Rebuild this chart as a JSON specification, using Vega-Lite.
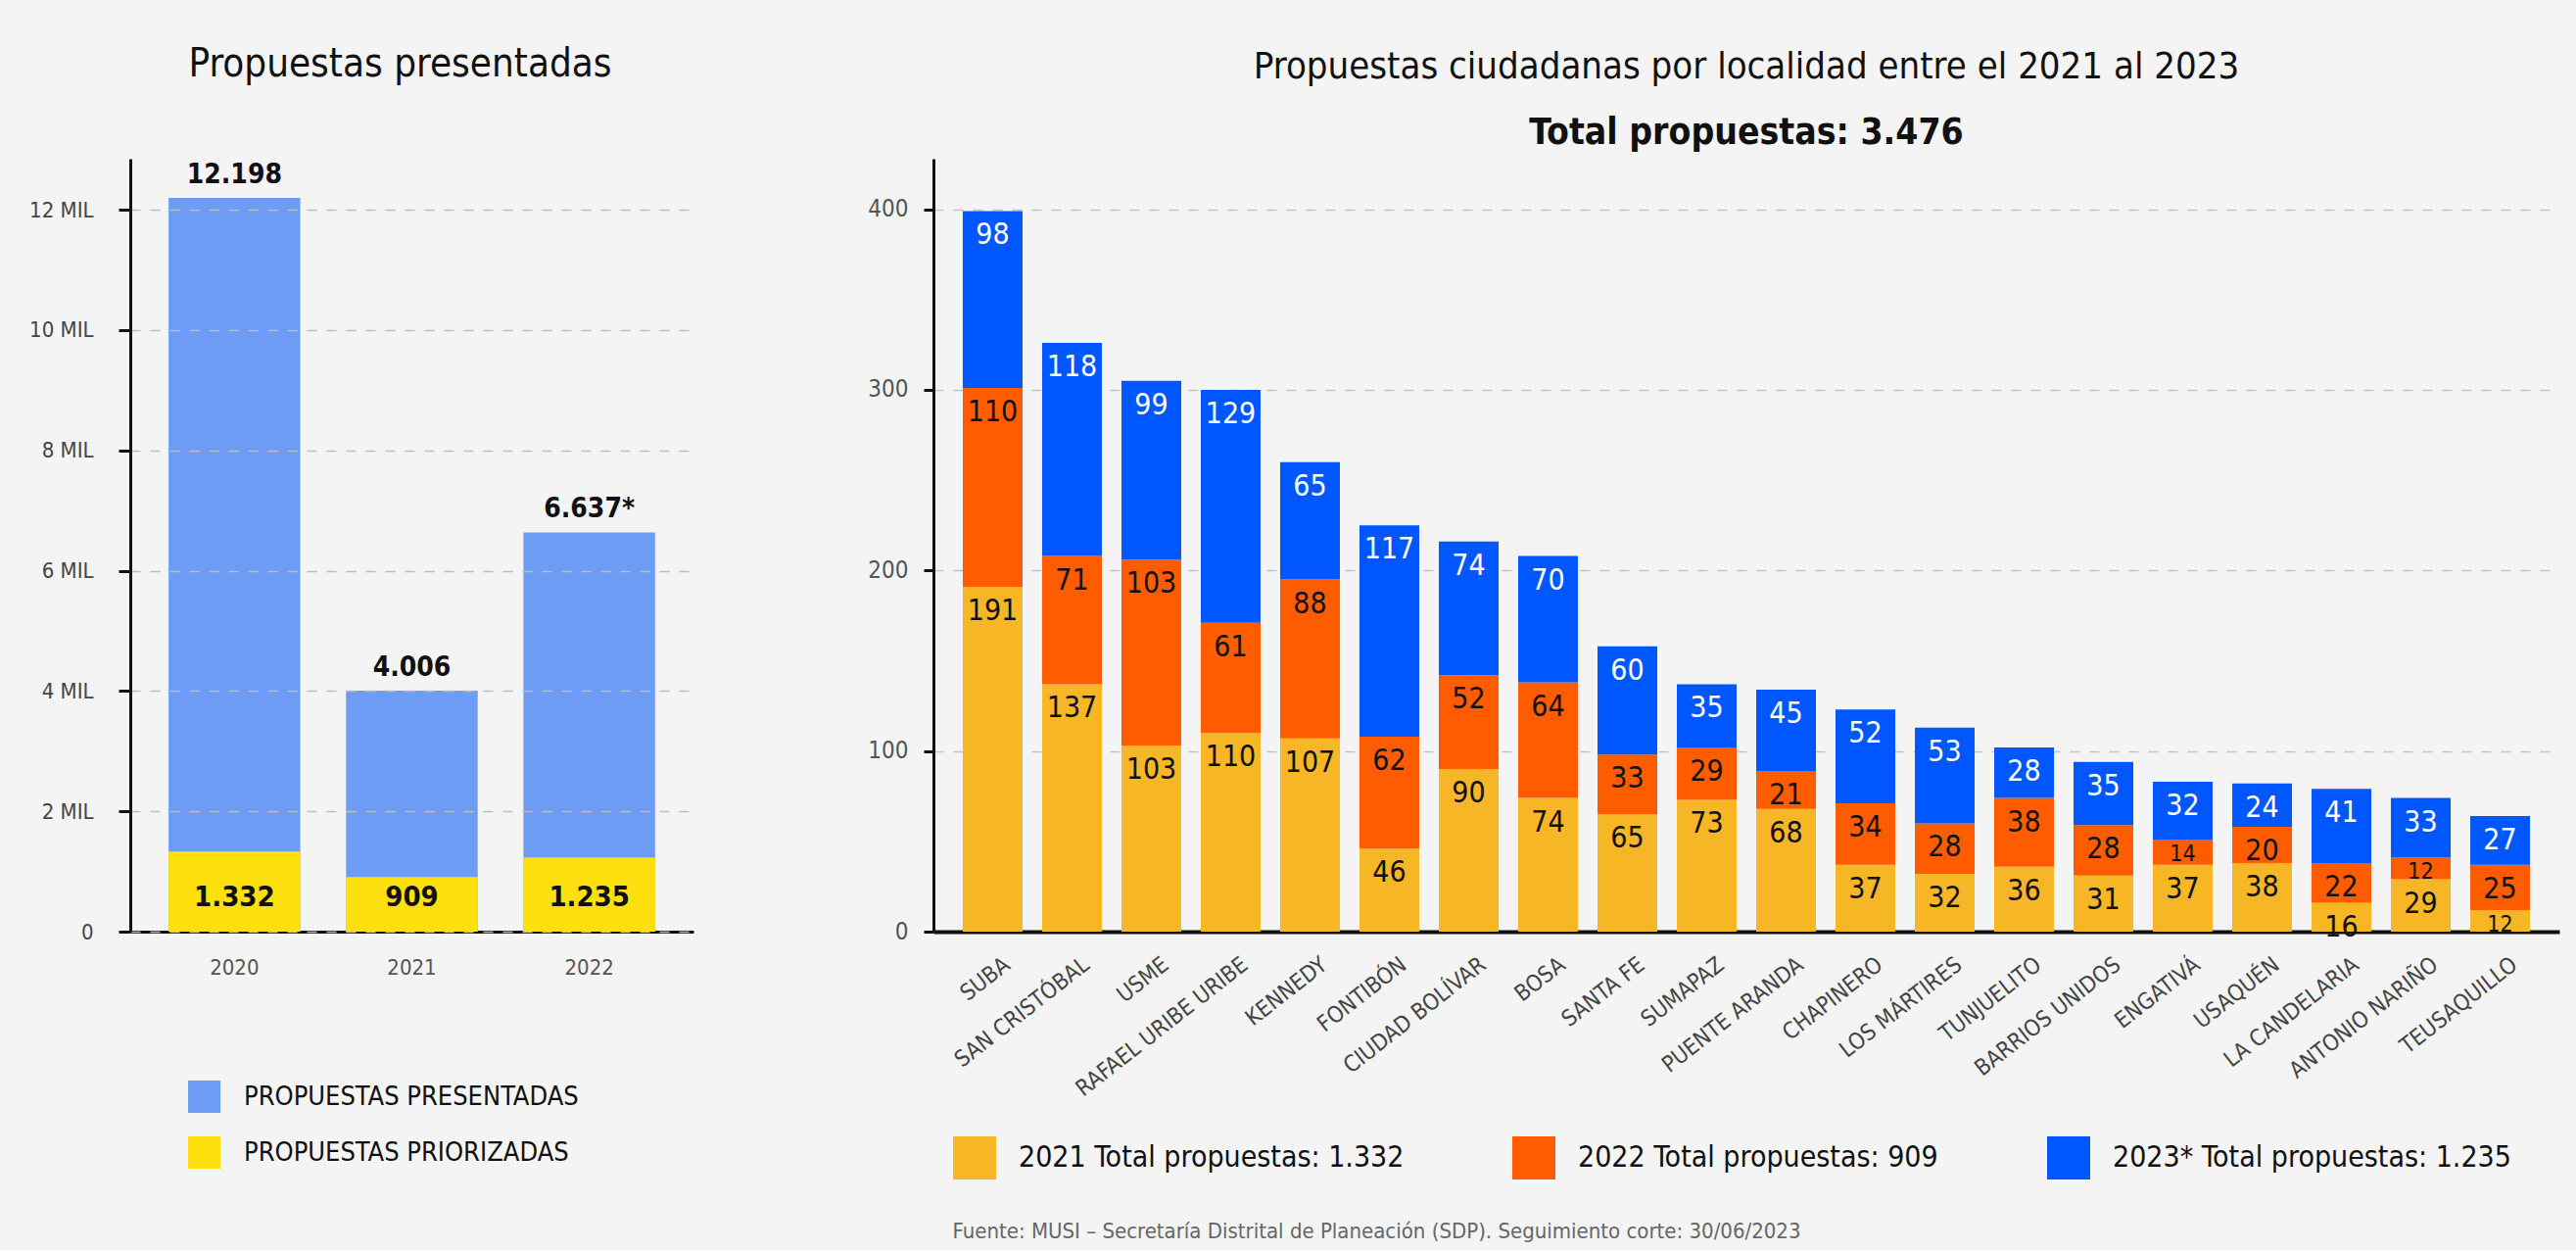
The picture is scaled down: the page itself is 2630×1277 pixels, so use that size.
{
  "$schema": "https://vega.github.io/schema/vega-lite/v6.json",
  "background": "#f4f4f4",
  "padding": {"left": 29, "top": 46, "right": 17, "bottom": 8},
  "autosize": {"type": "pad"},
  "bounds": "flush",
  "spacing": 245,
  "resolve": {"scale": {"color": "independent"}, "legend": {"color": "independent"}},
  "config": {
    "font": "DejaVu Sans Condensed, DejaVu Sans, sans-serif",
    "view": {"stroke": null}
  },
  "title": {
    "text": "Fuente: MUSI – Secretaría Distrital de Planeación (SDP). Seguimiento corte: 30/06/2023",
    "orient": "bottom",
    "anchor": "start",
    "dx": 943,
    "offset": 43,
    "fontSize": 22,
    "fontWeight": "normal",
    "color": "#666666"
  },
  "hconcat": [
    {
      "width": 575,
      "height": 789,
      "title": {"text": "Propuestas presentadas", "fontSize": 40, "fontWeight": 500, "color": "#111111", "anchor": "middle", "dx": -12, "offset": 76},
      "data": {
        "values": [
          {"anio": "2020", "serie": "PROPUESTAS PRESENTADAS", "valor": 12198, "etiqueta": "12.198"},
          {"anio": "2021", "serie": "PROPUESTAS PRESENTADAS", "valor": 4006, "etiqueta": "4.006"},
          {"anio": "2022", "serie": "PROPUESTAS PRESENTADAS", "valor": 6637, "etiqueta": "6.637*"},
          {"anio": "2020", "serie": "PROPUESTAS PRIORIZADAS", "valor": 1332, "etiqueta": "1.332"},
          {"anio": "2021", "serie": "PROPUESTAS PRIORIZADAS", "valor": 909, "etiqueta": "909"},
          {"anio": "2022", "serie": "PROPUESTAS PRIORIZADAS", "valor": 1235, "etiqueta": "1.235"}
        ]
      },
      "encoding": {
        "x": {
          "field": "anio", "type": "nominal", "sort": ["2020", "2021", "2022"],
          "scale": {"paddingInner": 0.258, "paddingOuter": 0.216},
          "axis": {"title": null, "labelAngle": 0, "domainColor": "#111111", "domainWidth": 3, "ticks": false, "tickSize": 0, "labelFontSize": 22, "labelColor": "#555555", "labelPadding": 26}
        }
      },
      "layer": [
        {
          "mark": {"type": "bar"},
          "encoding": {
            "y": {
              "field": "valor", "type": "quantitative", "stack": null,
              "scale": {"domain": [0, 12850], "nice": false},
              "axis": {
                "title": null, "values": [0, 2000, 4000, 6000, 8000, 10000, 12000],
                "labelExpr": "datum.value == 0 ? '0' : (datum.value / 1000) + ' MIL'",
                "grid": true, "gridDash": [10, 10], "gridColor": "#bdbdbd", "gridWidth": 1.5,
                "domainColor": "#111111", "domainWidth": 3, "tickColor": "#111111", "tickWidth": 3, "tickSize": 12,
                "labelFontSize": 22, "labelColor": "#444444", "labelPadding": 26, "zindex": 1
              }
            },
            "color": {
              "field": "serie", "type": "nominal",
              "scale": {"domain": ["PROPUESTAS PRESENTADAS", "PROPUESTAS PRIORIZADAS"], "range": ["#6c9cf4", "#ffe00f"]},
              "legend": {
                "title": null, "orient": "none", "legendX": 59, "legendY": 941, "direction": "vertical",
                "symbolType": "square", "symbolSize": 1089, "symbolStrokeWidth": 0, "symbolOpacity": 1,
                "labelFontSize": 27, "labelColor": "#111111", "labelOffset": 24, "rowPadding": 24, "padding": 0, "labelLimit": 600
              }
            }
          }
        },
        {
          "transform": [{"filter": "datum.serie == 'PROPUESTAS PRESENTADAS'"}],
          "mark": {"type": "text", "baseline": "alphabetic", "dy": -15, "fontSize": 28, "fontWeight": "bold", "color": "#111111"},
          "encoding": {
            "y": {"field": "valor", "type": "quantitative"},
            "text": {"field": "etiqueta", "type": "nominal"}
          }
        },
        {
          "transform": [{"filter": "datum.serie == 'PROPUESTAS PRIORIZADAS'"}],
          "mark": {"type": "text", "baseline": "middle", "dy": -35, "fontSize": 29, "fontWeight": "bold", "color": "#111111"},
          "encoding": {
            "y": {"datum": 0, "type": "quantitative"},
            "text": {"field": "etiqueta", "type": "nominal"}
          }
        }
      ]
    },
    {
      "width": 1660,
      "height": 789,
      "title": {
        "text": "Propuestas ciudadanas por localidad entre el 2021 al 2023",
        "subtitle": "Total propuestas: 3.476",
        "fontSize": 38, "fontWeight": 500, "color": "#111111",
        "subtitleFontSize": 37, "subtitleFontWeight": "bold", "subtitleColor": "#111111", "subtitlePadding": 30,
        "anchor": "middle", "offset": 8
      },
      "data": {
        "values": [
          {"localidad": "SUBA", "anio": "2021", "v": 191}, {"localidad": "SUBA", "anio": "2022", "v": 110}, {"localidad": "SUBA", "anio": "2023*", "v": 98},
          {"localidad": "SAN CRISTÓBAL", "anio": "2021", "v": 137}, {"localidad": "SAN CRISTÓBAL", "anio": "2022", "v": 71}, {"localidad": "SAN CRISTÓBAL", "anio": "2023*", "v": 118},
          {"localidad": "USME", "anio": "2021", "v": 103}, {"localidad": "USME", "anio": "2022", "v": 103}, {"localidad": "USME", "anio": "2023*", "v": 99},
          {"localidad": "RAFAEL URIBE URIBE", "anio": "2021", "v": 110}, {"localidad": "RAFAEL URIBE URIBE", "anio": "2022", "v": 61}, {"localidad": "RAFAEL URIBE URIBE", "anio": "2023*", "v": 129},
          {"localidad": "KENNEDY", "anio": "2021", "v": 107}, {"localidad": "KENNEDY", "anio": "2022", "v": 88}, {"localidad": "KENNEDY", "anio": "2023*", "v": 65},
          {"localidad": "FONTIBÓN", "anio": "2021", "v": 46}, {"localidad": "FONTIBÓN", "anio": "2022", "v": 62}, {"localidad": "FONTIBÓN", "anio": "2023*", "v": 117},
          {"localidad": "CIUDAD BOLÍVAR", "anio": "2021", "v": 90}, {"localidad": "CIUDAD BOLÍVAR", "anio": "2022", "v": 52}, {"localidad": "CIUDAD BOLÍVAR", "anio": "2023*", "v": 74},
          {"localidad": "BOSA", "anio": "2021", "v": 74}, {"localidad": "BOSA", "anio": "2022", "v": 64}, {"localidad": "BOSA", "anio": "2023*", "v": 70},
          {"localidad": "SANTA FE", "anio": "2021", "v": 65}, {"localidad": "SANTA FE", "anio": "2022", "v": 33}, {"localidad": "SANTA FE", "anio": "2023*", "v": 60},
          {"localidad": "SUMAPAZ", "anio": "2021", "v": 73}, {"localidad": "SUMAPAZ", "anio": "2022", "v": 29}, {"localidad": "SUMAPAZ", "anio": "2023*", "v": 35},
          {"localidad": "PUENTE ARANDA", "anio": "2021", "v": 68}, {"localidad": "PUENTE ARANDA", "anio": "2022", "v": 21}, {"localidad": "PUENTE ARANDA", "anio": "2023*", "v": 45},
          {"localidad": "CHAPINERO", "anio": "2021", "v": 37}, {"localidad": "CHAPINERO", "anio": "2022", "v": 34}, {"localidad": "CHAPINERO", "anio": "2023*", "v": 52},
          {"localidad": "LOS MÁRTIRES", "anio": "2021", "v": 32}, {"localidad": "LOS MÁRTIRES", "anio": "2022", "v": 28}, {"localidad": "LOS MÁRTIRES", "anio": "2023*", "v": 53},
          {"localidad": "TUNJUELITO", "anio": "2021", "v": 36}, {"localidad": "TUNJUELITO", "anio": "2022", "v": 38}, {"localidad": "TUNJUELITO", "anio": "2023*", "v": 28},
          {"localidad": "BARRIOS UNIDOS", "anio": "2021", "v": 31}, {"localidad": "BARRIOS UNIDOS", "anio": "2022", "v": 28}, {"localidad": "BARRIOS UNIDOS", "anio": "2023*", "v": 35},
          {"localidad": "ENGATIVÁ", "anio": "2021", "v": 37}, {"localidad": "ENGATIVÁ", "anio": "2022", "v": 14}, {"localidad": "ENGATIVÁ", "anio": "2023*", "v": 32},
          {"localidad": "USAQUÉN", "anio": "2021", "v": 38}, {"localidad": "USAQUÉN", "anio": "2022", "v": 20}, {"localidad": "USAQUÉN", "anio": "2023*", "v": 24},
          {"localidad": "LA CANDELARIA", "anio": "2021", "v": 16}, {"localidad": "LA CANDELARIA", "anio": "2022", "v": 22}, {"localidad": "LA CANDELARIA", "anio": "2023*", "v": 41},
          {"localidad": "ANTONIO NARIÑO", "anio": "2021", "v": 29}, {"localidad": "ANTONIO NARIÑO", "anio": "2022", "v": 12}, {"localidad": "ANTONIO NARIÑO", "anio": "2023*", "v": 33},
          {"localidad": "TEUSAQUILLO", "anio": "2021", "v": 12}, {"localidad": "TEUSAQUILLO", "anio": "2022", "v": 25}, {"localidad": "TEUSAQUILLO", "anio": "2023*", "v": 27}
        ]
      },
      "transform": [
        {"stack": "v", "groupby": ["localidad"], "sort": [{"field": "anio", "order": "ascending"}], "as": ["y0", "y1"]}
      ],
      "encoding": {
        "x": {
          "field": "localidad", "type": "nominal",
          "sort": ["SUBA", "SAN CRISTÓBAL", "USME", "RAFAEL URIBE URIBE", "KENNEDY", "FONTIBÓN", "CIUDAD BOLÍVAR", "BOSA", "SANTA FE", "SUMAPAZ", "PUENTE ARANDA", "CHAPINERO", "LOS MÁRTIRES", "TUNJUELITO", "BARRIOS UNIDOS", "ENGATIVÁ", "USAQUÉN", "LA CANDELARIA", "ANTONIO NARIÑO", "TEUSAQUILLO"],
          "scale": {"paddingInner": 0.247, "paddingOuter": 0.37},
          "axis": {"title": null, "labelAngle": -38, "labelAlign": "right", "labelBaseline": "top", "labelOffset": 8, "domainColor": "#111111", "domainWidth": 4, "ticks": false, "tickSize": 0, "labelFontSize": 23, "labelColor": "#444444", "labelPadding": 22, "labelLimit": 400}
        }
      },
      "layer": [
        {
          "mark": {"type": "bar"},
          "encoding": {
            "y": {
              "field": "y1", "type": "quantitative",
              "scale": {"domain": [0, 428], "nice": false},
              "axis": {
                "title": null, "values": [0, 100, 200, 300, 400],
                "grid": true, "gridDash": [10, 10], "gridColor": "#c4c4c4", "gridWidth": 1.5,
                "domainColor": "#111111", "domainWidth": 3, "tickColor": "#111111", "tickWidth": 3, "tickSize": 10,
                "labelFontSize": 24, "labelColor": "#555555", "labelPadding": 16
              }
            },
            "y2": {"field": "y0"},
            "color": {
              "field": "anio", "type": "nominal",
              "scale": {"domain": ["2021", "2022", "2023*"], "range": ["#f7b626", "#ff5c00", "#0057ff"]},
              "legend": {
                "title": null, "orient": "none", "legendX": 20, "legendY": 998, "direction": "horizontal", "columns": 3,
                "symbolType": "square", "symbolSize": 1936, "symbolStrokeWidth": 0,
                "labelFontSize": 30, "labelColor": "#111111", "labelOffset": 23, "columnPadding": 102, "padding": 0, "labelLimit": 700,
                "labelExpr": "datum.label == '2021' ? '2021  Total propuestas: 1.332' : datum.label == '2022' ? '2022  Total propuestas: 909' : '2023*  Total propuestas: 1.235'"
              }
            }
          }
        },
        {
          "transform": [{"filter": "datum.v > 14"}],
          "mark": {"type": "text", "baseline": "alphabetic", "dy": 34, "fontSize": 30},
          "encoding": {
            "y": {"field": "y1", "type": "quantitative"},
            "text": {"field": "v", "type": "quantitative"},
            "color": {"condition": {"test": "datum.anio == '2023*'", "value": "#ffffff"}, "value": "#111111"}
          }
        },
        {
          "transform": [{"filter": "datum.v <= 14"}],
          "mark": {"type": "text", "baseline": "alphabetic", "dy": 22, "fontSize": 23},
          "encoding": {
            "y": {"field": "y1", "type": "quantitative"},
            "text": {"field": "v", "type": "quantitative"},
            "color": {"condition": {"test": "datum.anio == '2023*'", "value": "#ffffff"}, "value": "#111111"}
          }
        }
      ]
    }
  ]
}
